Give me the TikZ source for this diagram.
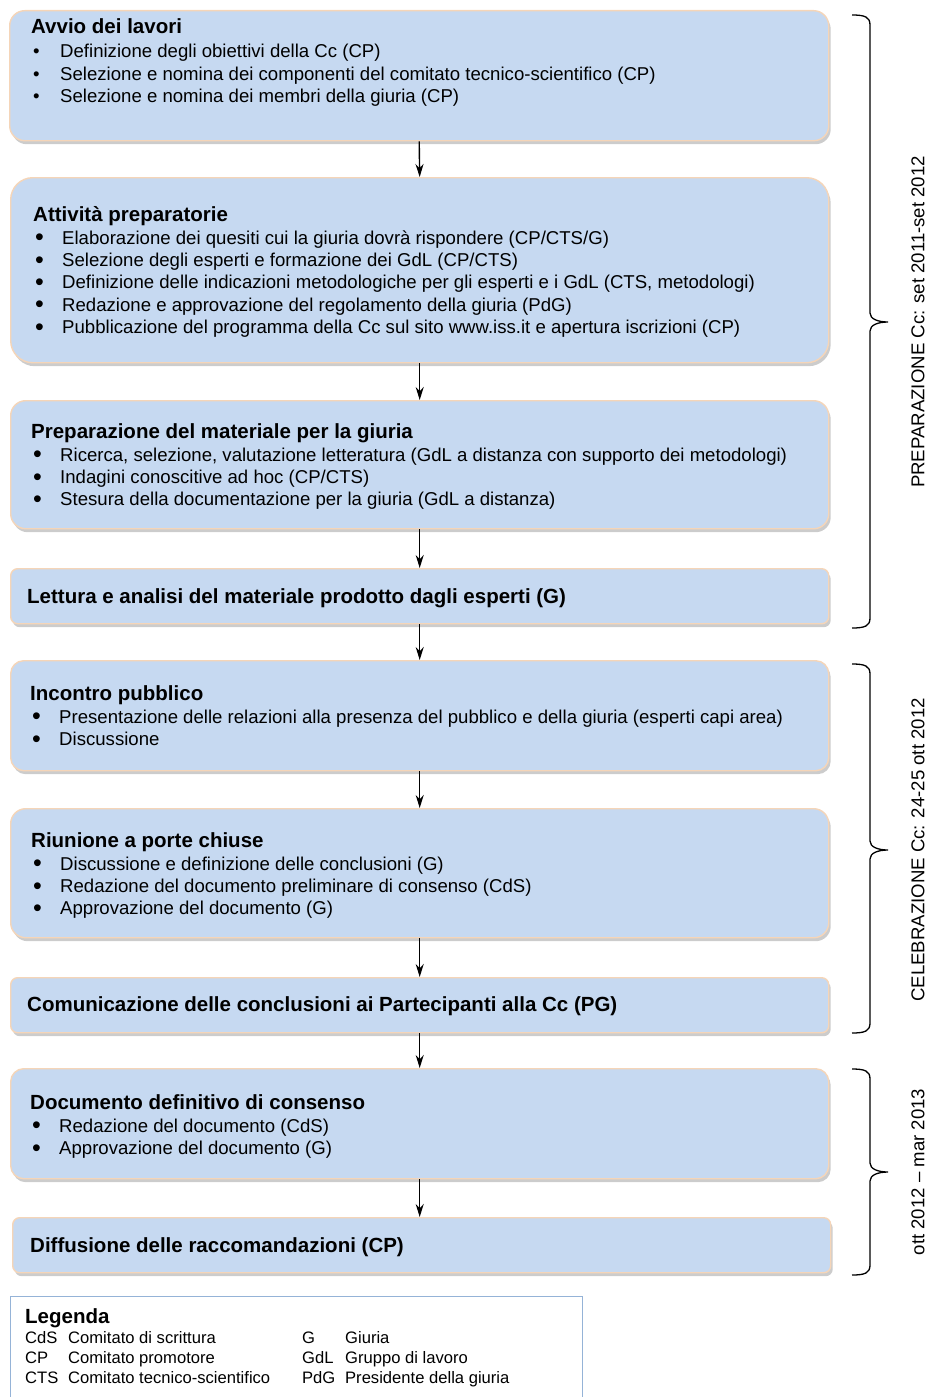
\documentclass[tikz,border=0pt]{standalone}
\usepackage{fontspec}
\setmainfont{Liberation Sans}
\usepackage{array}
\usetikzlibrary{shadows,arrows.meta}
\definecolor{boxfill}{HTML}{C6D9F1}
\definecolor{boxline}{HTML}{F5D5B8}
\definecolor{legline}{HTML}{95B3D7}
\newcommand{\corpo}{\fontsize{18.6}{22.3}\selectfont}
\newcommand{\titolo}{\fontsize{20.5}{24}\selectfont\bfseries}
\newcommand{\blt}{\textbullet}
\newcommand{\bltg}{\raisebox{-1.6pt}{\fontsize{25}{22}\selectfont\textbullet}}
\tikzstyle{fase}=[draw=boxline, fill=boxfill, line width=1.4pt, anchor=north west, inner sep=0pt, drop shadow={shadow xshift=2pt,shadow yshift=-3.5pt,opacity=0.4}]
\tikzstyle{testo}=[anchor=base west, inner sep=0pt, font=\corpo]
\tikzstyle{freccia}=[line width=1.4pt, -{Stealth[length=13pt,width=8pt]}]
\tikzstyle{graffa}=[line width=1.3pt]
% graffa: y alto, y punta, y basso
\newcommand{\graffa}[3]{\draw [graffa] (852,#1) .. controls (865,#1) and (870,#1+2) .. (870,#1+10) -- (870,#2-9) .. controls (870,#2-3) and (878,#2) .. (888,#2) .. controls (878,#2) and (870,#2+3) .. (870,#2+9) -- (870,#3-10) .. controls (870,#3-2) and (865,#3) .. (852,#3);}

\begin{document}
\begin{tikzpicture}[x=1pt,y=-1pt]
    \useasboundingbox (0,0) rectangle (929,1397);
    % fasi
    \node [fase, rounded corners=15pt, minimum width=819pt, minimum height=130pt] (b1) at (9,10) {};
    \node [fase, rounded corners=22pt, minimum width=818pt, minimum height=185pt] (b2) at (10,177) {};
    \node [fase, rounded corners=15pt, minimum width=818pt, minimum height=128pt] (b3) at (10,400) {};
    \node [fase, rounded corners=7pt, minimum width=818pt, minimum height=55pt] (b4) at (10,568) {};
    \node [fase, rounded corners=13pt, minimum width=818pt, minimum height=110pt] (b5) at (10,660) {};
    \node [fase, rounded corners=15pt, minimum width=818pt, minimum height=129pt] (b6) at (10,808) {};
    \node [fase, rounded corners=7pt, minimum width=818pt, minimum height=55pt] (b7) at (10,977) {};
    \node [fase, rounded corners=13pt, minimum width=818pt, minimum height=110pt] (b8) at (10,1068) {};
    \node [fase, rounded corners=7pt, minimum width=818pt, minimum height=55pt] (b9) at (12,1217) {};

    % testi
    \node [testo] (t1) at (31,34) {\begin{tabular}[t]{@{\hspace{2pt}}p{27pt}@{}l@{}}
        \multicolumn{2}{@{}l@{}}{\titolo Avvio dei lavori}\\[1.5pt]
        \blt & Definizione degli obiettivi della Cc (CP)\\
        \blt & Selezione e nomina dei componenti del comitato tecnico-scientifico (CP)\\
        \blt & Selezione e nomina dei membri della giuria (CP)
        \end{tabular}};
    \node [testo] (t2) at (33,221) {\begin{tabular}[t]{@{\hspace{2pt}}p{27pt}@{}l@{}}
        \multicolumn{2}{@{}l@{}}{\titolo Attività preparatorie}\\[1pt]
        \bltg & Elaborazione dei quesiti cui la giuria dovrà rispondere (CP/CTS/G)\\
        \bltg & Selezione degli esperti e formazione dei GdL (CP/CTS)\\
        \bltg & Definizione delle indicazioni metodologiche per gli esperti e i GdL (CTS, metodologi)\\
        \bltg & Redazione e approvazione del regolamento della giuria (PdG)\\
        \bltg & Pubblicazione del programma della Cc sul sito www.iss.it e apertura iscrizioni (CP)
        \end{tabular}};
    \node [testo] (t3) at (31,438) {\begin{tabular}[t]{@{\hspace{2pt}}p{27pt}@{}l@{}}
        \multicolumn{2}{@{}l@{}}{\titolo Preparazione del materiale per la giuria}\\[1pt]
        \bltg & Ricerca, selezione, valutazione letteratura (GdL a distanza con supporto dei metodologi)\\
        \bltg & Indagini conoscitive ad hoc (CP/CTS)\\
        \bltg & Stesura della documentazione per la giuria (GdL a distanza)
        \end{tabular}};
    \node [testo, font=\titolo] (t4) at (27,603) {Lettura e analisi del materiale prodotto dagli esperti (G)};
    \node [testo] (t5) at (30,700) {\begin{tabular}[t]{@{\hspace{2pt}}p{27pt}@{}l@{}}
        \multicolumn{2}{@{}l@{}}{\titolo Incontro pubblico}\\[1pt]
        \bltg & Presentazione delle relazioni alla presenza del pubblico e della giuria (esperti capi area)\\
        \bltg & Discussione
        \end{tabular}};
    \node [testo] (t6) at (31,847) {\begin{tabular}[t]{@{\hspace{2pt}}p{27pt}@{}l@{}}
        \multicolumn{2}{@{}l@{}}{\titolo Riunione a porte chiuse}\\[1pt]
        \bltg & Discussione e definizione delle conclusioni (G)\\
        \bltg & Redazione del documento preliminare di consenso (CdS)\\
        \bltg & Approvazione del documento (G)
        \end{tabular}};
    \node [testo, font=\titolo] (t7) at (27,1011) {Comunicazione delle conclusioni ai Partecipanti alla Cc (PG)};
    \node [testo] (t8) at (30,1109) {\begin{tabular}[t]{@{\hspace{2pt}}p{27pt}@{}l@{}}
        \multicolumn{2}{@{}l@{}}{\titolo Documento definitivo di consenso}\\[1pt]
        \bltg & Redazione del documento (CdS)\\
        \bltg & Approvazione del documento (G)
        \end{tabular}};
    \node [testo, font=\titolo] (t9) at (30,1252) {Diffusione delle raccomandazioni (CP)};

    % frecce
    \draw [freccia] (b1.south) -- (b2.north);
    \draw [freccia] (b2.south) -- (b3.north);
    \draw [freccia] (b3.south) -- (b4.north);
    \draw [freccia] (b4.south) -- (b5.north);
    \draw [freccia] (b5.south) -- (b6.north);
    \draw [freccia] (b6.south) -- (b7.north);
    \draw [freccia] (b7.south) -- (b8.north);
    \draw [freccia] (b8.south) -- (b8.south |- b9.north);

    % graffe e periodi
    \graffa{15}{322}{628}
    \graffa{664}{850}{1033}
    \graffa{1069}{1172}{1275}
    \node [testo, anchor=center, rotate=90] (p1) at (918,322) {PREPARAZIONE Cc: set 2011-set 2012};
    \node [testo, anchor=center, rotate=90] (p2) at (918,850) {CELEBRAZIONE Cc: 24-25 ott 2012};
    \node [testo, anchor=center, rotate=90] (p3) at (918,1172) {ott 2012 – mar 2013};

    % legenda
    \node [draw=legline, line width=1pt, anchor=north west, minimum width=572pt, minimum height=110pt, inner sep=0pt] (leg) at (10,1296) {};
    \node [testo, font=\fontsize{16.6}{20}\selectfont] (tleg) at (25,1323) {\begin{tabular}[t]{@{}p{43pt}@{}p{234pt}@{}p{43pt}@{}l@{}}
        \multicolumn{4}{@{}l@{}}{\fontsize{20.5}{24}\selectfont\bfseries Legenda}\\[0.5pt]
        CdS & Comitato di scrittura & G & Giuria\\
        CP & Comitato promotore & GdL & Gruppo di lavoro\\
        CTS & Comitato tecnico-scientifico & PdG & Presidente della giuria
        \end{tabular}};
\end{tikzpicture}
\end{document}
